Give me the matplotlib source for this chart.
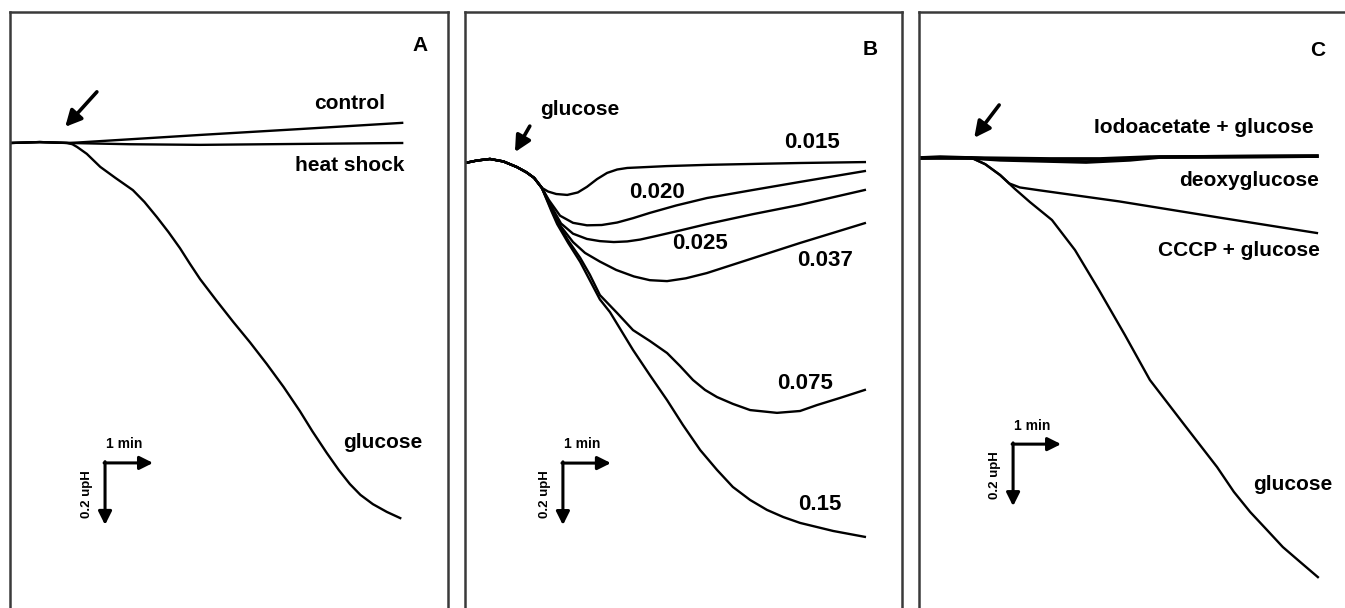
import matplotlib
matplotlib.use("Agg")
import matplotlib.pyplot as plt

plt.rcParams['font.family'] = ['Liberation Sans', 'DejaVu Sans']
plt.rcParams['font.weight'] = 'bold'

# time in min from the left edge of each panel, pH change in upH (negative = acidification)

# Panel A
a_control_t = [0, 0.62, 1.25, 2.5, 3.96, 6.04, 8.17]
a_control_ph = [0, 0.003, 0, 0.012, 0.026, 0.045, 0.065]
a_heat_t = [0, 0.62, 1.25, 2.5, 3.96, 6.04, 8.17]
a_heat_ph = [0, 0.003, 0, -0.004, -0.006, -0.003, 0]
a_glucose_t = [0, 0.62, 1.19, 1.30, 1.40, 1.60, 1.88, 2.20, 2.56, 2.80, 3.06, 3.30, 3.54, 3.75,
               3.96, 4.30, 4.65, 5.00, 5.35, 5.70, 6.04, 6.30, 6.60, 6.85, 7.08, 7.30, 7.56,
               7.85, 8.13]
a_glucose_ph = [0, 0.003, 0, -0.004, -0.013, -0.035, -0.077, -0.113, -0.152, -0.19, -0.239,
                -0.287, -0.339, -0.39, -0.439, -0.508, -0.577, -0.643, -0.713, -0.787, -0.865,
                -0.93, -1.0, -1.055, -1.10, -1.135, -1.165, -1.19, -1.21]

# Panel B, glucose concentrations
b_labels = ["0.015", "0.020", "0.025", "0.037", "0.075", "0.15"]
b_start_t = [0, 0.25, 0.52, 0.80, 1.08, 1.28, 1.44, 1.60]
b_start_ph = [0, 0.008, 0.013, 0.005, -0.013, -0.03, -0.048, -0.08]
b_015_t = [1.73, 1.90, 2.13, 2.35, 2.54, 2.75, 2.96, 3.17, 3.38, 4.20, 5.04, 6.00, 6.98, 8.33]
b_015_ph = [-0.092, -0.100, -0.103, -0.095, -0.077, -0.052, -0.032, -0.021, -0.016, -0.010,
            -0.006, -0.003, 0, 0.003]
b_020_t = [1.75, 1.98, 2.25, 2.54, 2.85, 3.17, 3.50, 3.85, 4.40, 5.04, 6.00, 6.98, 8.33]
b_020_ph = [-0.12, -0.170, -0.193, -0.201, -0.200, -0.192, -0.178, -0.161, -0.137, -0.113,
            -0.087, -0.061, -0.026]
b_025_t = [1.80, 2.00, 2.25, 2.54, 2.81, 3.10, 3.38, 3.65, 3.94, 4.50, 5.04, 6.00, 6.98, 8.33]
b_025_ph = [-0.14, -0.195, -0.228, -0.245, -0.252, -0.255, -0.253, -0.247, -0.237, -0.217,
            -0.197, -0.165, -0.135, -0.087]
b_037_t = [1.80, 2.00, 2.25, 2.50, 2.81, 3.15, 3.52, 3.85, 4.21, 4.60, 5.04, 6.00, 6.98, 8.33]
b_037_ph = [-0.145, -0.205, -0.255, -0.29, -0.318, -0.345, -0.366, -0.378, -0.381, -0.372,
            -0.355, -0.307, -0.258, -0.194]
b_075_t = [1.80, 1.92, 2.15, 2.40, 2.60, 2.81, 3.17, 3.50, 3.85, 4.21, 4.48, 4.75, 5.00, 5.25,
           5.58, 5.94, 6.50, 6.98, 7.33, 7.81, 8.33]
b_075_ph = [-0.15, -0.19, -0.25, -0.306, -0.36, -0.426, -0.484, -0.539, -0.574, -0.613, -0.655,
            -0.70, -0.732, -0.755, -0.777, -0.797, -0.806, -0.80, -0.781, -0.758, -0.732]
b_15_t = [1.80, 1.92, 2.15, 2.40, 2.81, 3.02, 3.50, 3.85, 4.21, 4.54, 4.90, 5.25, 5.58, 5.94,
          6.29, 6.63, 6.98, 7.67, 8.33]
b_15_ph = [-0.155, -0.197, -0.258, -0.319, -0.44, -0.481, -0.603, -0.684, -0.765, -0.845,
           -0.926, -0.99, -1.045, -1.087, -1.119, -1.142, -1.161, -1.187, -1.206]

# Panel C
c_iodo_t = [0, 0.44, 1.10, 2.73, 3.77, 4.81, 8.29]
c_iodo_ph = [0, 0.003, 0, -0.003, -0.003, 0.003, 0.006]
c_deoxy_t = [0, 1.10, 1.69, 2.73, 3.48, 4.40, 5.02, 8.29]
c_deoxy_ph = [0, 0, -0.006, -0.010, -0.013, -0.006, 0.003, 0.006]
c_cccp_t = [0, 1.10, 1.38, 1.69, 1.88, 2.10, 2.50, 4.17, 6.25, 8.29]
c_cccp_ph = [0, 0, -0.02, -0.055, -0.082, -0.095, -0.104, -0.14, -0.192, -0.242]
c_glucose_t = [0, 1.10, 1.38, 1.69, 2.00, 2.31, 2.77, 3.25, 3.75, 4.29, 4.81, 5.50, 6.21, 6.56,
               6.90, 7.25, 7.58, 7.94, 8.31]
c_glucose_ph = [0, 0, -0.02, -0.055, -0.10, -0.142, -0.20, -0.297, -0.426, -0.571, -0.716,
                -0.855, -0.997, -1.077, -1.142, -1.20, -1.255, -1.303, -1.352]

fig = plt.figure(figsize=(13.45, 6.08), dpi=100)


def make_panel(left_px, width_px, base_px):
    ax = fig.add_axes([left_px / 1345, 0, width_px / 1345, 596 / 608])
    ax.set_xlim(0, width_px / 48)
    ax.set_ylim(-(608 - base_px) / 310, (base_px - 12) / 310)
    ax.set_xticks([])
    ax.set_yticks([])
    for side in ["left", "top", "right"]:
        ax.spines[side].set_color("#3a3a3a")
        ax.spines[side].set_linewidth(1.8)
    ax.spines["bottom"].set_visible(False)
    return ax


def scale_bar(ax, t0, p0):
    arrow = dict(arrowstyle="-|>", lw=2.2, color="black", mutation_scale=20, shrinkA=0, shrinkB=0)
    ax.annotate("", xy=(t0 + 1, p0), xytext=(t0 - 0.02, p0), arrowprops=arrow)
    ax.annotate("", xy=(t0, p0 - 0.2), xytext=(t0, p0 + 0.004), arrowprops=arrow)
    ax.text(t0 + 0.4, p0 + 0.06, "1 min", fontsize=10, ha="center", va="center")
    ax.text(t0 - 0.38, p0 - 0.1, "0.2 upH", fontsize=9.5, ha="center", va="center", rotation=90)


def add_arrow(ax, tail, head):
    ax.annotate("", xy=head, xytext=tail,
                arrowprops=dict(arrowstyle="-|>", lw=2.6, color="black", mutation_scale=24,
                                shrinkA=0, shrinkB=0))


lw = 1.7
fs = 15

# Panel A
ax = make_panel(10, 438, 143)
ax.plot(a_control_t, a_control_ph, color="black", lw=lw)
ax.plot(a_heat_t, a_heat_ph, color="black", lw=lw)
ax.plot(a_glucose_t, a_glucose_ph, color="black", lw=lw)
add_arrow(ax, (1.81, 0.165), (1.15, 0.052))
ax.text(7.08, 0.129, "control", fontsize=fs, ha="center", va="center")
ax.text(7.08, -0.074, "heat shock", fontsize=fs, ha="center", va="center")
ax.text(7.77, -0.965, "glucose", fontsize=fs, ha="center", va="center")
ax.text(8.54, 0.316, "A", fontsize=15, ha="center", va="center")
scale_bar(ax, 1.98, -1.032)

# Panel B
ax = make_panel(465, 437, 163)
curves = [(b_015_t, b_015_ph), (b_020_t, b_020_ph), (b_025_t, b_025_ph),
          (b_037_t, b_037_ph), (b_075_t, b_075_ph), (b_15_t, b_15_ph)]
for t, ph in curves:
    ax.plot(b_start_t + t, b_start_ph + ph, color="black", lw=lw)
add_arrow(ax, (1.35, 0.119), (1.04, 0.035))
ax.text(2.40, 0.174, "glucose", fontsize=fs, ha="center", va="center")
label_pos = [(7.23, 0.065), (4.0, -0.094), (4.90, -0.261), (7.5, -0.316), (7.08, -0.71), (7.40, -1.1)]
for lab, (x, y) in zip(b_labels, label_pos):
    ax.text(x, y, lab, fontsize=16, ha="center", va="center")
ax.text(8.44, 0.365, "B", fontsize=15, ha="center", va="center")
scale_bar(ax, 2.04, -0.968)

# Panel C
ax = make_panel(919, 441, 158)
ax.plot(c_iodo_t, c_iodo_ph, color="black", lw=2.6)
ax.plot(c_deoxy_t, c_deoxy_ph, color="black", lw=2.6)
ax.plot(c_cccp_t, c_cccp_ph, color="black", lw=lw)
ax.plot(c_glucose_t, c_glucose_ph, color="black", lw=lw)
add_arrow(ax, (1.67, 0.171), (1.15, 0.065))
ax.text(5.94, 0.097, "Iodoacetate + glucose", fontsize=fs, ha="center", va="center")
ax.text(6.875, -0.074, "deoxyglucose", fontsize=fs, ha="center", va="center")
ax.text(6.67, -0.297, "CCCP + glucose", fontsize=fs, ha="center", va="center")
ax.text(7.79, -1.052, "glucose", fontsize=fs, ha="center", va="center")
ax.text(8.31, 0.348, "C", fontsize=15, ha="center", va="center")
scale_bar(ax, 1.96, -0.923)

fig.savefig("out.png", dpi=100)
